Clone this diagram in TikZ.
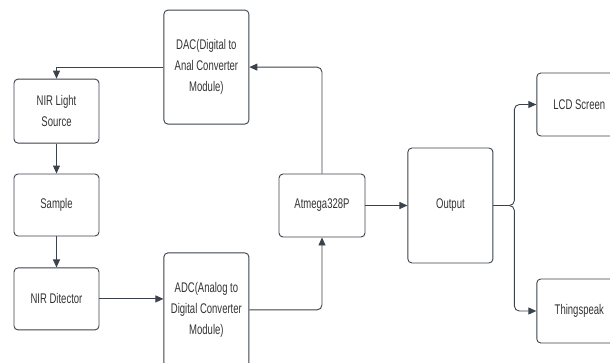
\documentclass[tikz,border=0pt]{standalone}
\usepackage{fontspec}
\setmainfont{Liberation Sans}[FakeStretch=0.68]
\usepackage{tikz}
\usetikzlibrary{positioning}
\usetikzlibrary{arrows.meta}
\definecolor{edgegray}{HTML}{3B424C}
\definecolor{textgray}{HTML}{333333}

\begin{document}
\begin{tikzpicture}[x=1pt,y=1pt,
    block/.style={draw=edgegray, line width=0.9pt, rounded corners=4pt,
        minimum width=85pt, inner sep=0pt, align=center, text=textgray,
        font=\fontsize{14}{21}\selectfont},
    link/.style={draw=edgegray, line width=0.9pt,
        -{Triangle[length=8pt,width=7pt]}}]
        \clip (0,0) rectangle (610,-362);

        % Nodes
        \node[block, minimum height=62pt] (sample) at (56.5,-205) {Sample};
        \node[block, minimum height=64pt, above=30pt of sample] (light) {NIR Light\\Source};
        \node[block, minimum height=62pt, below=31pt of sample] (det) {NIR Ditector};
        \node[block, minimum height=114pt, right=64pt of light, yshift=44pt] (dac)
            {DAC(Digital to\\Anal Converter\\Module)};
        \node[block, minimum height=114pt, right=64pt of det, yshift=-11pt] (adc)
            {ADC(Analog to\\Digital Converter\\Module)};
        \node[block, minimum width=86pt, minimum height=63pt] (mcu) at (322,-205.5) {Atmega328P};
        \node[block, minimum height=115pt, right=42pt of mcu] (out) {Output};
        \node[block, minimum height=63pt, right=43pt of out, yshift=101pt] (lcd) {LCD Screen};
        \node[block, minimum height=64pt, right=43pt of out, yshift=-105.5pt] (ts) {Thingspeak};
        \coordinate[right=21pt of out] (split);

        % Edges
        \draw[link] (dac.west) -| (light.north);
        \draw[link] (light) -- (sample);
        \draw[link] (sample) -- (det);
        \draw[link] (det.east) -- (det.east -| adc.west);
        \draw[link, rounded corners=5pt] (adc.east) -| (mcu.south);
        \draw[link, rounded corners=5pt] (mcu.north) |- (dac.east);
        \draw[link] (mcu) -- (out);
        \draw[link, rounded corners=5pt] (out.east) -- (split) |- (lcd.west);
        \draw[link, rounded corners=5pt] (out.east) -- (split) |- (ts.west);
\end{tikzpicture}
\end{document}
